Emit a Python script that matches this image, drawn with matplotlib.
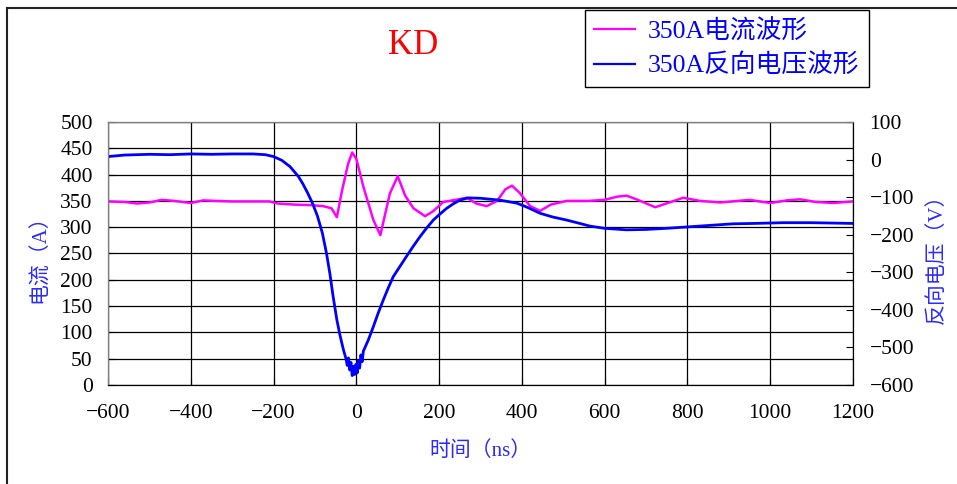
import numpy as np
import matplotlib
matplotlib.use("Agg")
import matplotlib.pyplot as plt
from matplotlib.lines import Line2D
from matplotlib.font_manager import FontProperties

# fontes: números em serifa, texto chinês em Noto CJK
plt.rcParams['font.family'] = ['Liberation Serif', 'Noto Sans CJK SC']
plt.rcParams['axes.unicode_minus'] = True

# corrente (eixo esquerdo, A)
t_i = [-600, -560, -530, -500, -470, -440, -400, -370, -340, -300, -250, -210,
       -190, -150, -110, -80, -60, -47, -35, -20, -10, 0, 17, 41, 58, 81, 100,
       118, 138, 166, 185, 210, 240, 267, 290, 315, 340, 360, 376, 395, 420,
       444, 470, 508, 560, 600, 630, 653, 680, 722, 760, 790, 830, 880, 950,
       1000, 1040, 1072, 1110, 1152, 1200]
i_vals = [349, 348, 345, 347, 352, 350, 346, 351, 350, 349, 349, 349,
          345, 343, 342, 340, 336, 319, 368, 420, 442, 430, 377, 314, 285, 364, 397,
          360, 336, 321, 330, 348, 352, 356, 345, 340, 350, 372, 379, 365, 340,
          331, 343, 350, 350, 352, 358, 360, 352, 338, 348, 356, 350, 347, 352,
          346, 351, 353, 348, 346, 349]

# tensão reversa (eixo direito, V)
t_v = [-600, -560, -500, -450, -400, -350, -300, -250, -220, -200, -180, -160,
       -140, -130, -118, -106, -94, -82, -72, -64, -56, -47, -39, -31,
       -25, -22, -19, -16, -13, -10, -7, -4, -1, 2, 5, 8, 11, 14, 17,
       29, 41, 53, 65, 77, 89, 105, 121, 138, 154, 170, 186, 202, 218, 234,
       250, 270, 300, 347, 388, 415, 444, 475, 508, 540, 564, 600, 653, 700,
       749, 790, 830, 870, 910, 960, 1031, 1100, 1150, 1200]
v_vals = [8, 12, 14, 13, 15, 14, 15, 15, 13, 8, -2, -19,
          -45, -63, -88, -116, -150, -196, -250, -303, -365, -427, -470, -507,
          -530, -548, -528, -560, -540, -575, -550, -572, -545, -568, -535, -555, -520, -538, -510,
          -480, -445, -408, -374, -342, -312, -285, -258, -230, -205, -182, -161, -145, -130, -118,
          -108, -102, -103, -108, -116, -128, -143, -153, -161, -170, -177, -183, -187, -186,
          -183, -180, -177, -174, -171, -170, -168, -168, -169, -170]

x_ticks = [-600, -400, -200, 0, 200, 400, 600, 800, 1000, 1200]

fig = plt.figure(figsize=(9.57, 4.84), dpi=100)
ax = fig.add_axes([108/957, 1 - 385/484, 745/957, 263/484])
ax2 = ax.twinx()

ax.plot(t_i, i_vals, color='#ff00ff', linewidth=1.8)
ax2.plot(t_v, v_vals, color='#0000ff', linewidth=2.0)

ax.set_xlim(-600, 1200)
ax.set_xticks(x_ticks)
ax.set_ylim(0, 500)
ax.set_yticks(np.arange(0, 501, 50))
ax2.set_ylim(-600, 100)
ax2.set_yticks(np.arange(-600, 101, 100))

ax.grid(True, color='black', linewidth=0.9)
ax.set_axisbelow(True)

ax.tick_params(axis='y', direction='in', length=5, labelsize=15.5, pad=11)
ax.tick_params(axis='x', direction='in', length=5, labelsize=15.5, pad=14)
ax2.tick_params(axis='y', direction='in', length=5, labelsize=15.5, pad=12)

for sp in ['left', 'top']:
    ax2.spines[sp].set_color('#808080')
for sp in ['bottom', 'right']:
    ax2.spines[sp].set_color('black')

ax.set_xlabel('时间（ns）', color='#2a2aff', fontsize=15, labelpad=13)
ax.set_ylabel('电流（A）', color='#2a2aff', fontsize=15, labelpad=7)
ax2.set_ylabel('反向电压（V）', color='#2a2aff', fontsize=15, labelpad=9)

fig.text(413/957, 1 - 46/484, 'KD', color='red', fontsize=25, ha='center', va='center')

# legenda fora da área do gráfico
handles = [Line2D([], [], color='#ff00ff', linewidth=1.6),
           Line2D([], [], color='#0000ff', linewidth=1.6)]
leg = fig.legend(handles, ['350A电流波形', '350A反向电压波形'],
                 loc='upper left', bbox_to_anchor=(585/957, 1 - 10/484),
                 prop=FontProperties(family=['Liberation Serif', 'Noto Sans CJK SC'], size=18.5),
                 frameon=True, fancybox=False, edgecolor='black', framealpha=1,
                 handlelength=1.6, handletextpad=0.5, borderpad=0.35, labelspacing=0.4,
                 borderaxespad=0)
leg.get_frame().set_linewidth(1.0)
for txt in leg.get_texts():
    txt.set_color('#0000ff')

# moldura da figura (esquerda e topo)
fig.add_artist(Line2D([7/957, 7/957], [0, 1 - 8/484], color='#222222', linewidth=1.5))
fig.add_artist(Line2D([7/957, 1], [1 - 8/484, 1 - 8/484], color='#222222', linewidth=1.5))

fig.savefig('out.png', dpi=100)
